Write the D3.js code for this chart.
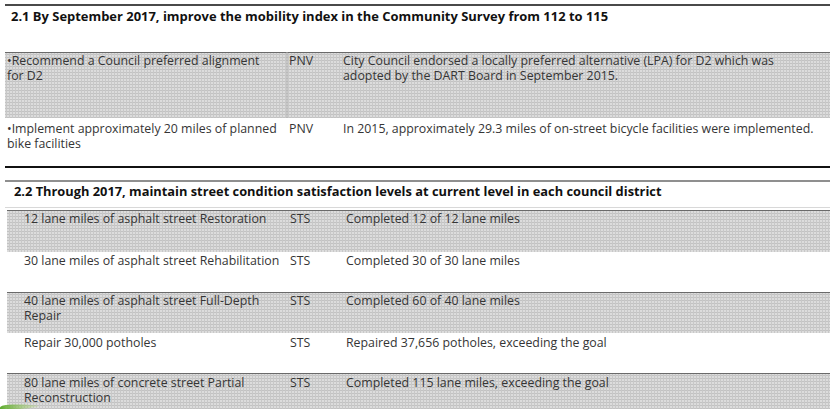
<!DOCTYPE html>
<html>
<head>
<meta charset="utf-8">
<script src="https://cdn.jsdelivr.net/npm/d3@7"></script>
<style>
  html, body { margin: 0; padding: 0; background: #fff; }
  svg { display: block; }
</style>
</head>
<body>
<svg id="chart" width="830" height="409"></svg>
<script>
// ---------- DATA ----------
const sectionTitles = [
  "2.1 By September 2017, improve the mobility index in the Community Survey from 112 to 115",
  "2.2 Through 2017, maintain street condition satisfaction levels at current level in each council district"
];
const section1Goals = [
  ["\u2022Recommend a Council preferred alignment", "for D2"],
  ["\u2022Implement approximately 20 miles of planned", "bike facilities"]
];
const section1Depts = ["PNV", "PNV"];
const section1Status = [
  ["City Council endorsed a locally preferred alternative (LPA) for D2 which was", "adopted by the DART Board in September 2015."],
  ["In 2015, approximately 29.3 miles of on-street bicycle facilities were implemented."]
];
const section2Goals = [
  ["12 lane miles of asphalt street Restoration"],
  ["30 lane miles of asphalt street Rehabilitation"],
  ["40 lane miles of asphalt street Full-Depth", "Repair"],
  ["Repair 30,000 potholes"],
  ["80 lane miles of concrete street Partial", "Reconstruction"]
];
const section2Depts = ["STS", "STS", "STS", "STS", "STS"];
const section2Status = [
  ["Completed 12 of 12 lane miles"],
  ["Completed 30 of 30 lane miles"],
  ["Completed 60 of 40 lane miles"],
  ["Repaired 37,656 potholes, exceeding the goal"],
  ["Completed 115 lane miles, exceeding the goal"]
];

// ---------- LAYOUT ----------
const W = 830, H = 409;
const svg = d3.select("#chart");
const bodyFont = "'Open Sans', 'DejaVu Sans', sans-serif";
const titleFont = "'Open Sans', 'DejaVu Sans', sans-serif";

const defs = svg.append("defs");
const pat = defs.append("pattern").attr("id", "grid")
  .attr("width", 3).attr("height", 3).attr("patternUnits", "userSpaceOnUse");
pat.append("rect").attr("width", 3).attr("height", 3).attr("fill", "#dcdcdc");
pat.append("rect").attr("x", 0).attr("y", 0).attr("width", 3).attr("height", 1).attr("fill", "#c2c2c2");
pat.append("rect").attr("x", 0).attr("y", 0).attr("width", 1).attr("height", 3).attr("fill", "#c8c8c8");

function fitSize(str, weight, family, target) {
  const t = svg.append("text").attr("font-size", 20).attr("font-weight", weight)
    .attr("font-family", family).text(str);
  const w = t.node().getComputedTextLength();
  t.remove();
  return 20 * target / w;
}
const bodySize = Math.min(
  fitSize(section1Status[0][0], 400, bodyFont, 455),
  fitSize(section1Status[1][0], 400, bodyFont, 483),
  fitSize(section1Goals[1][0], 400, bodyFont, 270),
  fitSize(section1Goals[0][0], 400, bodyFont, 270),
  fitSize(section2Goals[1][0], 400, bodyFont, 260)
);
const title1Size = fitSize(sectionTitles[0], 700, titleFont, 598);
const title2Size = fitSize(sectionTitles[1], 700, titleFont, 648);

const cols = ["goal", "dept", "status"];
const x1 = d3.scaleOrdinal().domain(cols).range([7, 289, 343]);
const x2 = d3.scaleOrdinal().domain(cols).range([24, 290, 346]);

const rows1 = d3.scaleOrdinal().domain([0, 1]).range([52, 118]);
const rowH1 = [66, 49];
const rows2 = d3.scaleOrdinal().domain([0, 1, 2, 3, 4]).range([210, 252, 292, 333, 373]);
const rowH2 = [42, 40, 41, 40, 40];
const lineGap = 14.5;

// ---------- SECTION 1 ----------
svg.append("line").attr("x1", 5).attr("x2", W).attr("y1", 5).attr("y2", 5)
  .attr("stroke", "#4a4a4a").attr("stroke-width", 2);
svg.append("text").attr("x", 11).attr("y", 20.5)
  .attr("font-family", titleFont).attr("font-weight", 700).attr("font-size", title1Size)
  .attr("fill", "#111").text(sectionTitles[0]);

function drawRows(goals, depts, status, xs, ys, hs, shadedIdx, x0, dividers, padTop) {
  goals.forEach((g, i) => {
    const top = ys(i);
    if (shadedIdx.includes(i)) {
      svg.append("rect").attr("x", x0).attr("y", top).attr("width", W - x0).attr("height", hs[i])
        .attr("fill", "url(#grid)");
      svg.append("line").attr("x1", x0).attr("x2", W).attr("y1", top + 0.5).attr("y2", top + 0.5)
        .attr("stroke", "#6a6a6a").attr("stroke-width", 1.2);
      dividers.forEach(dx => {
        svg.append("line").attr("x1", dx).attr("x2", dx).attr("y1", top).attr("y2", top + hs[i])
          .attr("stroke", "#b0b0b0").attr("stroke-width", 1);
      });
    }
    const cells = [["goal", g], ["dept", [depts[i]]], ["status", status[i]]];
    cells.forEach(([c, lines]) => {
      lines.forEach((ln, k) => {
        svg.append("text").attr("font-family", bodyFont).attr("font-size", bodySize)
          .attr("fill", "#353535")
          .attr("x", xs(c)).attr("y", top + padTop[i] + k * lineGap).text(ln);
      });
    });
  });
}

drawRows(section1Goals, section1Depts, section1Status, x1, rows1, rowH1, [0], 5, [287], [13, 15]);

svg.append("line").attr("x1", 5).attr("x2", W).attr("y1", 167).attr("y2", 167)
  .attr("stroke", "#111").attr("stroke-width", 2);

// ---------- SECTION 2 ----------
svg.append("line").attr("x1", 5).attr("x2", W).attr("y1", 181).attr("y2", 181)
  .attr("stroke", "#6a6a6a").attr("stroke-width", 1.6);
svg.append("text").attr("x", 14).attr("y", 195.5)
  .attr("font-family", titleFont).attr("font-weight", 700).attr("font-size", title2Size)
  .attr("fill", "#111").text(sectionTitles[1]);
svg.append("line").attr("x1", 5).attr("x2", W).attr("y1", 207.5).attr("y2", 207.5)
  .attr("stroke", "#d8d8d8").attr("stroke-width", 1);

drawRows(section2Goals, section2Depts, section2Status, x2, rows2, rowH2, [0, 2, 4], 7, [], [13, 13, 13, 14, 14]);

// ---------- green swoosh (bottom-left decoration) ----------
const grad = defs.append("linearGradient").attr("id", "gr").attr("x1", "0").attr("x2", "1");
grad.append("stop").attr("offset", "0").attr("stop-color", "#5aa82a");
grad.append("stop").attr("offset", "1").attr("stop-color", "#a9d46a").attr("stop-opacity", 0.2);
svg.append("path").attr("d", d3.line().curve(d3.curveBasis)([[0, 409], [0, 405], [20, 404], [48, 406], [20, 409]]))
  .attr("fill", "url(#gr)");
</script>
</body>
</html>
